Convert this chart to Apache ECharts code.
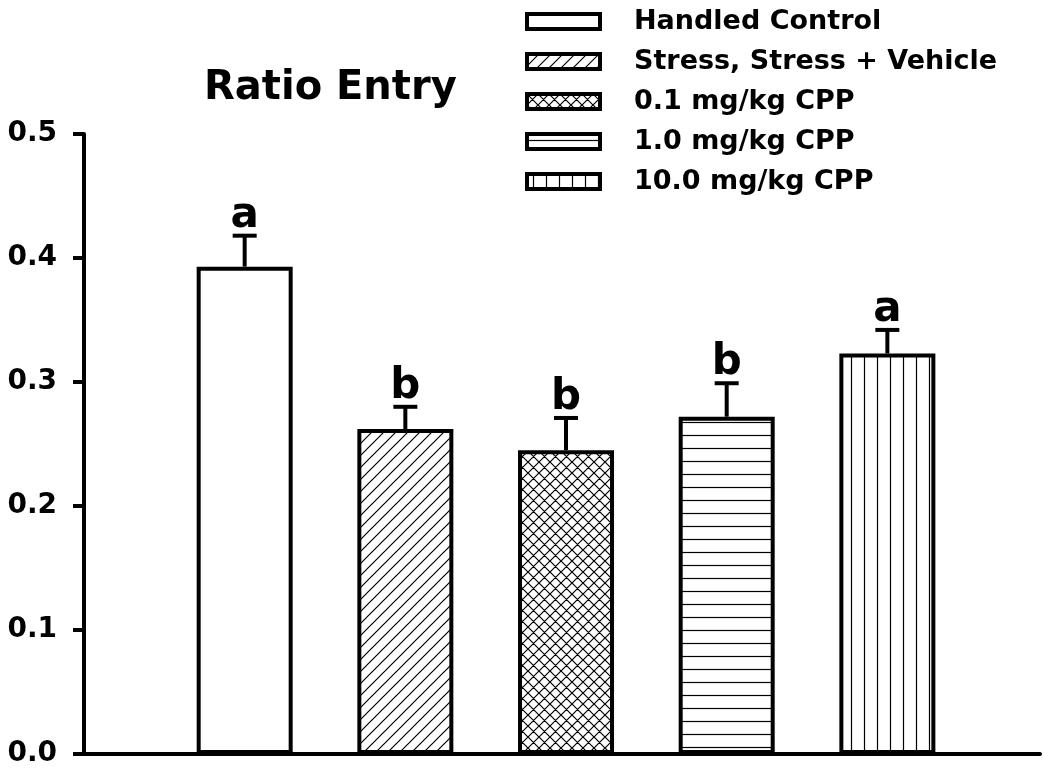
<!DOCTYPE html>
<html>
<head>
<meta charset="utf-8">
<script src="https://cdn.jsdelivr.net/npm/echarts@6/dist/echarts.min.js"></script>
<style>
  html, body { margin: 0; padding: 0; background: #fff; }
  #chart { width: 1044px; height: 772px; }
</style>
</head>
<body>
<div id="chart"></div>
<script>
// Groups, mean ratio of entries, SEM and significance letters
const categories = ['Handled Control', 'Stress, Stress + Vehicle', '0.1 mg/kg CPP', '1.0 mg/kg CPP', '10.0 mg/kg CPP'];
const ratioEntry = [0.393, 0.262, 0.245, 0.272, 0.323];
const sem = [0.025, 0.018, 0.026, 0.027, 0.019];
const groupLetters = ['a', 'b', 'b', 'b', 'a'];
const fillKinds = ['none', 'diag', 'cross', 'horiz', 'vert'];
const yTickLabels = ['0.0', '0.1', '0.2', '0.3', '0.4', '0.5'];

const FONT = '"DejaVu Sans", "Liberation Sans", Arial, sans-serif';

// Build a repeating black-on-white hatch tile
function hatch(kind) {
  if (kind === 'none') return '#ffffff';
  const s = kind === 'cross' ? 11 : (kind === 'diag' ? 12 : 13);
  const c = document.createElement('canvas');
  c.width = s; c.height = s;
  const g = c.getContext('2d');
  g.fillStyle = '#ffffff';
  g.fillRect(0, 0, s, s);
  g.strokeStyle = '#000000';
  g.lineWidth = 1.2;
  g.beginPath();
  if (kind === 'diag' || kind === 'cross') {
    g.moveTo(-1, s + 1); g.lineTo(s + 1, -1);
    g.moveTo(-2, 2); g.lineTo(2, -2);
    g.moveTo(s - 2, s + 2); g.lineTo(s + 2, s - 2);
  }
  if (kind === 'cross') {
    g.moveTo(-1, -1); g.lineTo(s + 1, s + 1);
    g.moveTo(s - 2, -2); g.lineTo(s + 2, 2);
    g.moveTo(-2, s - 2); g.lineTo(2, s + 2);
  }
  if (kind === 'horiz') { g.moveTo(0, 6.5); g.lineTo(s, 6.5); }
  if (kind === 'vert') { g.moveTo(6.5, 0); g.lineTo(6.5, s); }
  g.stroke();
  return { image: c, repeat: 'repeat' };
}

const barSeries = categories.map((name, i) => ({
  name: name,
  type: 'bar',
  barWidth: 96,
  barGap: '-100%',
  data: [[i + 1, ratioEntry[i]]],
  itemStyle: { color: hatch(fillKinds[i]), borderColor: '#000', borderWidth: 4 },
  emphasis: { disabled: true },
  z: 2
}));

// SEM whiskers with a cap, and the group letter above each
const errorSeries = {
  type: 'custom',
  data: ratioEntry.map((v, i) => [i + 1, v, sem[i]]),
  z: 5,
  renderItem: function (params, api) {
    const x = api.value(0), v = api.value(1), e = api.value(2);
    const base = api.coord([x, v]);
    const top = api.coord([x, v + e]);
    const half = 12;
    return {
      type: 'group',
      children: [
        { type: 'line', shape: { x1: base[0], y1: base[1], x2: top[0], y2: top[1] },
          style: { stroke: '#000', lineWidth: 4 } },
        { type: 'line', shape: { x1: top[0] - half, y1: top[1], x2: top[0] + half, y2: top[1] },
          style: { stroke: '#000', lineWidth: 4 } },
        { type: 'text', x: top[0], y: top[1] + 1,
          style: { text: groupLetters[params.dataIndex], font: 'bold 42px ' + FONT,
                   fill: '#000', align: 'center', verticalAlign: 'bottom' } }
      ]
    };
  }
};

const chart = echarts.init(document.getElementById('chart'), null, { renderer: 'canvas' });
chart.setOption({
  animation: false,
  backgroundColor: '#ffffff',
  title: {
    text: 'Ratio Entry',
    left: 199,
    top: 64,
    textStyle: { fontFamily: FONT, fontWeight: 'bold', fontSize: 40, color: '#000' }
  },
  legend: {
    data: categories,
    orient: 'vertical',
    left: 525,
    top: 8,
    padding: 0,
    itemWidth: 73,
    itemHeight: 15,
    itemGap: 13,
    icon: 'rect',
    selectedMode: false,
    itemStyle: { borderColor: '#000', borderWidth: 4 },
    textStyle: { fontFamily: FONT, fontWeight: 'bold', fontSize: 27, lineHeight: 27,
                 color: '#000', padding: [0, 0, 0, 29] }
  },
  grid: { left: 84, right: 4, top: 134, bottom: 18, containLabel: false },
  xAxis: {
    type: 'value',
    min: 0,
    max: 5.95,
    axisLine: { show: true, onZero: false, lineStyle: { color: '#000', width: 4 } },
    axisTick: { show: false },
    axisLabel: { show: false },
    splitLine: { show: false }
  },
  yAxis: {
    type: 'value',
    min: 0,
    max: 0.5,
    interval: 0.1,
    axisLine: { show: true, lineStyle: { color: '#000', width: 4 } },
    axisTick: { show: true, inside: false, length: 11, lineStyle: { color: '#000', width: 4 } },
    axisLabel: {
      margin: 27,
      fontFamily: FONT, fontWeight: 'bold', fontSize: 28, color: '#000',
      formatter: function (v) { return yTickLabels[Math.round(v * 10)]; }
    },
    splitLine: { show: false }
  },
  series: barSeries.concat([errorSeries])
});
</script>
</body>
</html>
